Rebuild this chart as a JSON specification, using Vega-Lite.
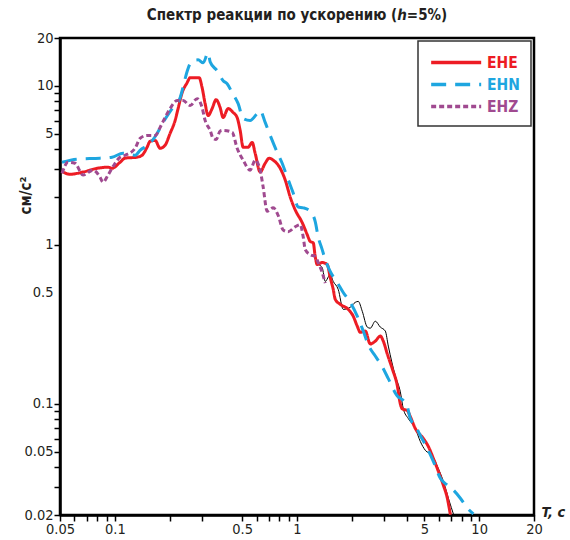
{
  "$schema": "https://vega.github.io/schema/vega-lite/v6.json",
  "width": 474,
  "height": 477,
  "autosize": {"type": "none"},
  "padding": {"left": 60, "top": 38, "right": 36, "bottom": 25},
  "background": "white",
  "config": {
    "view": {"stroke": "black", "strokeWidth": 2.5},
    "font": "DejaVu Sans Condensed, sans-serif"
  },
  "title": {
    "text": "Спектр реакции по ускорению (ℎ=5%)",
    "font": "DejaVu Sans Condensed, sans-serif",
    "fontSize": 15,
    "fontWeight": "bold",
    "color": "#231f20",
    "anchor": "middle",
    "frame": "group",
    "offset": 7
  },
  "data": {"values": [
    {"series":"EHE","T":0.0511,"A":2.90},{"series":"EHE","T":0.0567,"A":2.78},{"series":"EHE","T":0.0669,"A":2.87},{"series":"EHE","T":0.0799,"A":3.03},{"series":"EHE","T":0.0918,"A":3.08},{"series":"EHE","T":0.0965,"A":3.03},{"series":"EHE","T":0.1068,"A":3.31},{"series":"EHE","T":0.1138,"A":3.51},{"series":"EHE","T":0.1324,"A":3.56},{"series":"EHE","T":0.1411,"A":3.66},{"series":"EHE","T":0.1503,"A":4.11},{"series":"EHE","T":0.1561,"A":4.48},{"series":"EHE","T":0.1664,"A":4.54},{"series":"EHE","T":0.1772,"A":4.05},{"series":"EHE","T":0.1887,"A":4.23},{"series":"EHE","T":0.2010,"A":5.02},{"series":"EHE","T":0.2142,"A":6.06},{"series":"EHE","T":0.2225,"A":7.20},{"series":"EHE","T":0.2341,"A":9.06},{"series":"EHE","T":0.2493,"A":10.46},{"series":"EHE","T":0.2590,"A":11.25},{"series":"EHE","T":0.2902,"A":11.25},{"series":"EHE","T":0.3014,"A":9.74},{"series":"EHE","T":0.3131,"A":7.73},{"series":"EHE","T":0.3252,"A":6.51},{"series":"EHE","T":0.3421,"A":7.20},{"series":"EHE","T":0.3598,"A":8.19},{"series":"EHE","T":0.3785,"A":7.30},{"series":"EHE","T":0.3931,"A":6.32},{"series":"EHE","T":0.4188,"A":7.20},{"series":"EHE","T":0.4462,"A":6.80},{"series":"EHE","T":0.4692,"A":6.32},{"series":"EHE","T":0.4875,"A":5.25},{"series":"EHE","T":0.5064,"A":4.11},{"series":"EHE","T":0.5393,"A":4.11},{"series":"EHE","T":0.5673,"A":4.41},{"series":"EHE","T":0.5893,"A":3.77},{"series":"EHE","T":0.6279,"A":2.87},{"series":"EHE","T":0.6688,"A":3.26},{"series":"EHE","T":0.7036,"A":3.51},{"series":"EHE","T":0.7401,"A":3.41},{"series":"EHE","T":0.8087,"A":3.03},{"series":"EHE","T":0.8614,"A":2.56},{"series":"EHE","T":0.9177,"A":2.00},{"series":"EHE","T":0.9777,"A":1.66},{"series":"EHE","T":1.068,"A":1.38},{"series":"EHE","T":1.138,"A":1.16},{"series":"EHE","T":1.182,"A":1.05},{"series":"EHE","T":1.228,"A":1.03},{"series":"EHE","T":1.259,"A":0.843},{"series":"EHE","T":1.291,"A":0.752},{"series":"EHE","T":1.375,"A":0.774},{"series":"EHE","T":1.466,"A":0.752},{"series":"EHE","T":1.522,"A":0.623},{"series":"EHE","T":1.581,"A":0.525},{"series":"EHE","T":1.622,"A":0.454},{"series":"EHE","T":1.727,"A":0.423},{"series":"EHE","T":1.911,"A":0.393},{"series":"EHE","T":2.036,"A":0.356},{"series":"EHE","T":2.142,"A":0.308},{"series":"EHE","T":2.225,"A":0.282},{"series":"EHE","T":2.370,"A":0.287},{"series":"EHE","T":2.525,"A":0.238},{"series":"EHE","T":2.690,"A":0.248},{"series":"EHE","T":2.866,"A":0.267},{"series":"EHE","T":2.977,"A":0.248},{"series":"EHE","T":3.131,"A":0.206},{"series":"EHE","T":3.336,"A":0.166},{"series":"EHE","T":3.554,"A":0.130},{"series":"EHE","T":3.691,"A":0.100},{"series":"EHE","T":3.786,"A":0.093},{"series":"EHE","T":4.033,"A":0.0907},{"series":"EHE","T":4.188,"A":0.0831},{"series":"EHE","T":4.462,"A":0.070},{"series":"EHE","T":4.937,"A":0.0606},{"series":"EHE","T":5.259,"A":0.054},{"series":"EHE","T":5.603,"A":0.0454},{"series":"EHE","T":5.968,"A":0.0377},{"series":"EHE","T":6.359,"A":0.0308},{"series":"EHE","T":6.688,"A":0.0255},{"series":"EHE","T":6.85,"A":0.0221},{"series":"EHE","T":6.95,"A":0.0201},
    {"series":"EHN","T":0.0513,"A":3.31},{"series":"EHN","T":0.0620,"A":3.46},{"series":"EHN","T":0.0829,"A":3.51},{"series":"EHN","T":0.0965,"A":3.56},{"series":"EHN","T":0.1109,"A":3.77},{"series":"EHN","T":0.1292,"A":3.66},{"series":"EHN","T":0.1375,"A":3.93},{"series":"EHN","T":0.1561,"A":4.35},{"series":"EHN","T":0.1706,"A":5.02},{"series":"EHN","T":0.1840,"A":5.89},{"series":"EHN","T":0.2062,"A":7.20},{"series":"EHN","T":0.2282,"A":8.43},{"series":"EHN","T":0.2431,"A":11.09},{"series":"EHN","T":0.2493,"A":12.3},{"series":"EHN","T":0.2656,"A":14.37},{"series":"EHN","T":0.2865,"A":14.57},{"series":"EHN","T":0.3053,"A":13.96},{"series":"EHN","T":0.3252,"A":16.12},{"series":"EHN","T":0.3336,"A":14.16},{"series":"EHN","T":0.3644,"A":12.44},{"series":"EHN","T":0.3931,"A":10.77},{"series":"EHN","T":0.4135,"A":10.31},{"series":"EHN","T":0.4406,"A":9.06},{"series":"EHN","T":0.4753,"A":7.73},{"series":"EHN","T":0.5064,"A":6.23},{"series":"EHN","T":0.5531,"A":6.06},{"series":"EHN","T":0.6044,"A":6.70},{"series":"EHN","T":0.6279,"A":6.99},{"series":"EHN","T":0.6688,"A":5.89},{"series":"EHN","T":0.7126,"A":4.88},{"series":"EHN","T":0.7785,"A":3.82},{"series":"EHN","T":0.8293,"A":3.26},{"series":"EHN","T":0.8835,"A":2.67},{"series":"EHN","T":0.9532,"A":2.12},{"series":"EHN","T":1.0155,"A":1.73},{"series":"EHN","T":1.082,"A":1.71},{"series":"EHN","T":1.182,"A":1.63},{"series":"EHN","T":1.259,"A":1.40},{"series":"EHN","T":1.308,"A":1.12},{"series":"EHN","T":1.375,"A":0.933},{"series":"EHN","T":1.429,"A":0.808},{"series":"EHN","T":1.522,"A":0.680},{"series":"EHN","T":1.663,"A":0.580},{"series":"EHN","T":1.794,"A":0.502},{"series":"EHN","T":1.960,"A":0.435},{"series":"EHN","T":2.142,"A":0.356},{"series":"EHN","T":2.311,"A":0.287},{"series":"EHN","T":2.462,"A":0.235},{"series":"EHN","T":2.690,"A":0.200},{"series":"EHN","T":2.939,"A":0.171},{"series":"EHN","T":3.171,"A":0.144},{"series":"EHN","T":3.554,"A":0.112},{"series":"EHN","T":3.834,"A":0.105},{"series":"EHN","T":4.033,"A":0.096},{"series":"EHN","T":4.188,"A":0.0808},{"series":"EHN","T":4.462,"A":0.073},{"series":"EHN","T":4.753,"A":0.0632},{"series":"EHN","T":5.193,"A":0.0525},{"series":"EHN","T":5.603,"A":0.0435},{"series":"EHN","T":6.122,"A":0.034},{"series":"EHN","T":6.688,"A":0.0308},{"series":"EHN","T":7.216,"A":0.0287},{"series":"EHN","T":7.885,"A":0.0255},{"series":"EHN","T":8.615,"A":0.0221},{"series":"EHN","T":9.294,"A":0.0203},
    {"series":"EHZ","T":0.0513,"A":2.82},{"series":"EHZ","T":0.0553,"A":3.31},{"series":"EHZ","T":0.0604,"A":3.26},{"series":"EHZ","T":0.0669,"A":2.75},{"series":"EHZ","T":0.0759,"A":2.95},{"series":"EHZ","T":0.0829,"A":2.67},{"series":"EHZ","T":0.0861,"A":2.48},{"series":"EHZ","T":0.0918,"A":2.75},{"series":"EHZ","T":0.1003,"A":3.26},{"series":"EHZ","T":0.1068,"A":3.56},{"series":"EHZ","T":0.1138,"A":3.66},{"series":"EHZ","T":0.1292,"A":4.05},{"series":"EHZ","T":0.1375,"A":4.67},{"series":"EHZ","T":0.1503,"A":4.88},{"series":"EHZ","T":0.1664,"A":4.88},{"series":"EHZ","T":0.1772,"A":5.48},{"series":"EHZ","T":0.1887,"A":6.32},{"series":"EHZ","T":0.2010,"A":7.20},{"series":"EHZ","T":0.2197,"A":8.08},{"series":"EHZ","T":0.2370,"A":8.08},{"series":"EHZ","T":0.2590,"A":7.52},{"series":"EHZ","T":0.2829,"A":8.31},{"series":"EHZ","T":0.3014,"A":7.30},{"series":"EHZ","T":0.3131,"A":6.06},{"series":"EHZ","T":0.3336,"A":5.25},{"series":"EHZ","T":0.3464,"A":4.67},{"series":"EHZ","T":0.3598,"A":4.6},{"series":"EHZ","T":0.3785,"A":5.2},{"series":"EHZ","T":0.3931,"A":5.25},{"series":"EHZ","T":0.4406,"A":5.10},{"series":"EHZ","T":0.4692,"A":4.05},{"series":"EHZ","T":0.5064,"A":3.41},{"series":"EHZ","T":0.5531,"A":2.95},{"series":"EHZ","T":0.5893,"A":3.41},{"series":"EHZ","T":0.6279,"A":2.95},{"series":"EHZ","T":0.6520,"A":2.31},{"series":"EHZ","T":0.6860,"A":1.63},{"series":"EHZ","T":0.7401,"A":1.71},{"series":"EHZ","T":0.7884,"A":1.53},{"series":"EHZ","T":0.8399,"A":1.24},{"series":"EHZ","T":0.8948,"A":1.21},{"series":"EHZ","T":0.9777,"A":1.30},{"series":"EHZ","T":1.0416,"A":1.34},{"series":"EHZ","T":1.082,"A":1.12},{"series":"EHZ","T":1.110,"A":0.933},{"series":"EHZ","T":1.182,"A":0.868},{"series":"EHZ","T":1.259,"A":0.843},{"series":"EHZ","T":1.308,"A":0.774},{"series":"EHZ","T":1.375,"A":0.670},{"series":"EHZ","T":1.429,"A":0.575},
    {"series":"X","T":1.308,"A":0.752},{"series":"X","T":1.375,"A":0.72},{"series":"X","T":1.429,"A":0.589},{"series":"X","T":1.522,"A":0.651},{"series":"X","T":1.581,"A":0.589},{"series":"X","T":1.684,"A":0.525},{"series":"X","T":1.794,"A":0.393},{"series":"X","T":1.960,"A":0.405},{"series":"X","T":2.088,"A":0.435},{"series":"X","T":2.169,"A":0.441},{"series":"X","T":2.282,"A":0.382},{"series":"X","T":2.431,"A":0.304},{"series":"X","T":2.525,"A":0.299},{"series":"X","T":2.690,"A":0.331},{"series":"X","T":2.866,"A":0.304},{"series":"X","T":3.053,"A":0.287},{"series":"X","T":3.171,"A":0.231},{"series":"X","T":3.465,"A":0.150},{"series":"X","T":3.691,"A":0.119},{"series":"X","T":3.834,"A":0.093},{"series":"X","T":4.084,"A":0.0808},{"series":"X","T":4.462,"A":0.070},{"series":"X","T":4.753,"A":0.058},{"series":"X","T":5.064,"A":0.051},{"series":"X","T":5.533,"A":0.0474},{"series":"X","T":5.893,"A":0.0405},{"series":"X","T":6.359,"A":0.0326},{"series":"X","T":6.85,"A":0.0245},{"series":"X","T":7.22,"A":0.0203}
  ]},
  "encoding": {
    "x": {
      "field": "T", "type": "quantitative",
      "scale": {"type": "log", "domain": [0.05, 20], "nice": false},
      "axis": {
        "title": "T, c",
        "titleFont": "DejaVu Sans Condensed, sans-serif",
        "titleFontSize": 14.5, "titleFontWeight": "bold", "titleFontStyle": "italic", "titleColor": "#231f20",
        "titleX": 481, "titleY": 1, "titleAlign": "left", "titleBaseline": "alphabetic", "titleAngle": 0,
        "values": [0.05,0.06,0.07,0.08,0.09,0.1,0.2,0.3,0.5,0.6,0.7,0.8,0.9,1,2,3,4,5,6,7,8,9,10,20],
        "labelExpr": "indexof([0.05,0.1,0.5,1,5,10,20], datum.value) >= 0 ? format(datum.value, '~g') : ''",
        "labelOverlap": false, "labelFlush": false,
        "labelFont": "DejaVu Sans Condensed, sans-serif",
        "labelFontSize": 14.5, "labelColor": "#231f20", "labelPadding": 1,
        "grid": false, "domainColor": "black", "domainWidth": 2.5,
        "tickColor": "black", "tickWidth": 1.5, "tickSize": 6
      }
    },
    "y": {
      "field": "A", "type": "quantitative",
      "scale": {"type": "log", "domain": [0.02, 20], "nice": false},
      "axis": {
        "title": "см/с²",
        "titleFont": "DejaVu Sans Condensed, sans-serif",
        "titleFontSize": 15, "titleFontWeight": "bold", "titleColor": "#231f20",
        "titleX": -27, "titleY": 157, "titleAngle": -90, "titleAlign": "center", "titleBaseline": "bottom",
        "values": [0.02,0.03,0.04,0.05,0.06,0.07,0.08,0.09,0.1,0.5,1,2,3,4,5,6,7,8,9,10,20],
        "labelExpr": "indexof([0.02,0.05,0.1,0.5,1,5,10,20], datum.value) >= 0 ? format(datum.value, '~g') : ''",
        "labelOverlap": false, "labelFlush": false,
        "labelFont": "DejaVu Sans Condensed, sans-serif",
        "labelFontSize": 14.5, "labelColor": "#231f20", "labelPadding": 1,
        "grid": false, "domainColor": "black", "domainWidth": 2.5,
        "tickColor": "black", "tickWidth": 1.5, "tickSize": 6,
        "tickOpacity": {"condition": {"test": "datum.value == 0.5", "value": 0}, "value": 1}
      }
    }
  },
  "layer": [
    {
      "transform": [{"filter": "datum.series == 'X'"}],
      "mark": {"type": "line", "color": "black", "strokeWidth": 1, "clip": true, "interpolate": "monotone"}
    },
    {
      "transform": [{"filter": "datum.series != 'X'"}],
      "mark": {"type": "line", "strokeWidth": 3, "clip": true, "interpolate": "monotone"},
      "encoding": {
        "color": {
          "field": "series", "type": "nominal",
          "scale": {"domain": ["EHE", "EHN", "EHZ"], "range": ["#ed1c24", "#1ea6e0", "#a04a90"]},
          "legend": {
            "title": null, "orient": "top-right", "offset": 3,
            "symbolType": "M-1,0H5", "symbolSize": 278, "symbolStrokeWidth": 3.5,
            "symbolFillColor": "transparent",
            "labelFont": "DejaVu Sans Condensed, sans-serif",
            "labelFontSize": 15.5, "labelFontWeight": "bold", "labelOffset": 37,
            "padding": 11, "rowPadding": 3,
            "fillColor": "white", "strokeColor": "#333",
            "encode": {
              "labels": {"update": {"fill": {"scale": "color", "field": "value"}}},
              "legend": {"update": {"strokeWidth": {"value": 1.5}}}
            }
          }
        },
        "strokeDash": {
          "field": "series", "type": "nominal",
          "scale": {"domain": ["EHE", "EHN", "EHZ"], "range": [[1, 0], [15, 9], [5, 3]]}
        }
      }
    }
  ]
}
